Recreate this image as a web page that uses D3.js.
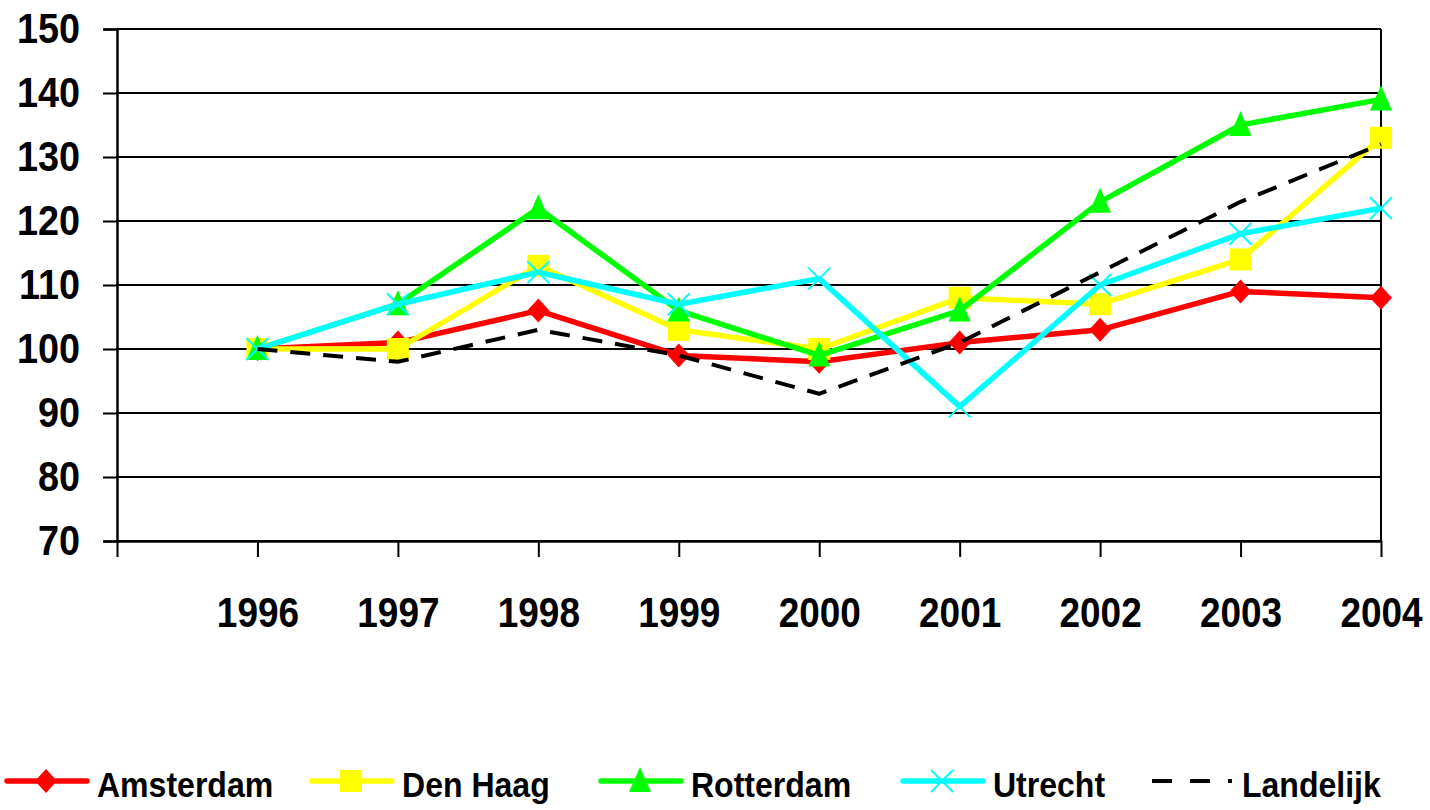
<!DOCTYPE html>
<html>
<head>
<meta charset="utf-8">
<script src="https://cdn.jsdelivr.net/npm/d3@7"></script>
<style>
  body { margin: 0; background: #fff; }
  text { font-family: "Liberation Sans", Arial, sans-serif; font-weight: bold; fill: #000; }
</style>
</head>
<body>
<div id="container"></div>
<script>
const years = ["1996", "1997", "1998", "1999", "2000", "2001", "2002", "2003", "2004"];
const yTicks = [70, 80, 90, 100, 110, 120, 130, 140, 150];

const amsterdam = [100, 101, 106, 99, 98, 101, 103, 109, 108];
const denHaag   = [100, 100, 113, 103, 100, 108, 107, 114, 133];
const rotterdam = [100, 107, 122, 106, 99, 106, 123, 135, 139];
const utrecht   = [100, 107, 112, 107, 111, 91, 110, 118, 122];
const landelijk = [100, 98, 103, 99, 93, 101, 112, 123, 132];

const seriesNames = ["Amsterdam", "Den Haag", "Rotterdam", "Utrecht", "Landelijk"];
const seriesColors = ["#ff0000", "#ffff00", "#00ff00", "#00ffff", "#000000"];
const seriesMarkers = ["diamond", "square", "triangle", "cross", "none"];
const seriesValues = [amsterdam, denHaag, rotterdam, utrecht, landelijk];

function draw() {
    const width = 1430;
    const height = 810;
    const left = 117, right = 1381, top = 29, bottom = 541;

    const svg = d3.select('#container')
        .append('svg')
        .attr('width', width)
        .attr('height', height);

    const x = d3.scaleLinear().domain([-1, years.length - 1]).range([left, right]);
    const y = d3.scaleLinear().domain([70, 150]).range([bottom, top]);

    // squeeze text horizontally around its anchor (narrow bold look)
    const squeeze = (sel, k) => sel.each(function() {
        const ax = +(this.getAttribute('x') || 0);
        d3.select(this).attr('transform', `translate(${ax},0) scale(${k},1) translate(${-ax},0)`);
    });

    // gridlines
    svg.append('g').selectAll('line')
        .data(yTicks)
        .join('line')
        .attr('x1', left).attr('x2', right)
        .attr('y1', d => y(d)).attr('y2', d => y(d))
        .attr('stroke', '#000').attr('stroke-width', 2);

    // right border
    svg.append('line')
        .attr('x1', right).attr('x2', right)
        .attr('y1', top).attr('y2', bottom)
        .attr('stroke', '#000').attr('stroke-width', 2);

    const yAxis = svg.append('g')
        .attr('transform', `translate(${left},0)`)
        .call(d3.axisLeft(y).tickValues(yTicks).tickSize(14).tickPadding(23));
    yAxis.select('.domain').attr('stroke', '#000').attr('stroke-width', 2.5);
    yAxis.selectAll('.tick line').attr('stroke-width', 2);
    yAxis.selectAll('text').style('font-size', '42px').attr('fill', '#000')
        .call(squeeze, 0.9);

    const xAxis = svg.append('g')
        .attr('transform', `translate(0,${bottom})`)
        .call(d3.axisBottom(x)
            .tickValues(d3.range(-1, years.length))
            .tickFormat(i => i < 0 ? "" : years[i])
            .tickSize(16).tickPadding(40).tickSizeOuter(0));
    xAxis.select('.domain').attr('stroke', '#000').attr('stroke-width', 2.5);
    xAxis.selectAll('.tick line').attr('stroke-width', 2);
    xAxis.selectAll('text').style('font-size', '42px').attr('fill', '#000')
        .call(squeeze, 0.88);

    const line = d3.line().x((d, i) => x(i)).y(d => y(d));

    function marker(g, type, color, cx, cy) {
        if (type === "diamond") {
            g.append('path').attr('d', `M${cx},${cy - 12}L${cx + 11},${cy}L${cx},${cy + 12}L${cx - 11},${cy}Z`)
                .attr('fill', color);
        } else if (type === "square") {
            g.append('rect').attr('x', cx - 11).attr('y', cy - 11).attr('width', 22).attr('height', 22)
                .attr('fill', color);
        } else if (type === "triangle") {
            g.append('path').attr('d', `M${cx},${cy - 14}L${cx + 11},${cy + 11}L${cx - 11},${cy + 11}Z`)
                .attr('fill', color);
        } else if (type === "cross") {
            g.append('path').attr('d', `M${cx - 11},${cy - 11}L${cx + 11},${cy + 11}M${cx + 11},${cy - 11}L${cx - 11},${cy + 11}`)
                .attr('stroke', color).attr('stroke-width', 2).attr('fill', 'none');
        }
    }

    seriesValues.forEach((vals, s) => {
        const g = svg.append('g');
        const p = g.append('path')
            .datum(vals)
            .attr('d', line)
            .attr('fill', 'none')
            .attr('stroke', seriesColors[s])
            .attr('stroke-linejoin', 'round');
        if (seriesMarkers[s] === "none") {
            p.attr('stroke-width', 4).attr('stroke-dasharray', '20,13');
        } else {
            p.attr('stroke-width', 5.5);
        }
        vals.forEach((v, i) => marker(g, seriesMarkers[s], seriesColors[s], x(i), y(v)));
    });

    // legend
    const legendX = [7, 312, 601, 903, 1152];
    const legendY = 781;
    const legend = svg.append('g');
    seriesNames.forEach((name, s) => {
        const lx = legendX[s];
        const item = legend.append('g');
        const l = item.append('line')
            .attr('x1', lx).attr('x2', lx + 80)
            .attr('y1', legendY).attr('y2', legendY)
            .attr('stroke', seriesColors[s])
            .attr('stroke-linecap', seriesMarkers[s] === "none" ? 'butt' : 'round');
        if (seriesMarkers[s] === "none") {
            l.attr('stroke-width', 4).attr('stroke-dasharray', '20,18');
        } else {
            l.attr('stroke-width', 5.5);
        }
        marker(item, seriesMarkers[s], seriesColors[s], lx + 39, legendY);
        item.append('text')
            .attr('x', lx + 90)
            .attr('y', legendY + 16)
            .style('font-size', '36px')
            .text(name)
            .call(squeeze, 0.89);
    });
}

draw();
</script>
</body>
</html>
